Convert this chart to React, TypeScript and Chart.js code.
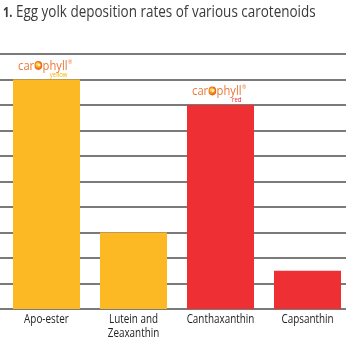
import React, { useEffect, useRef } from "react";
import { Chart, registerables } from "chart.js";

Chart.register(...registerables);

const categories: string[][] = [["Apo-ester"], ["Lutein and", "Zeaxanthin"], ["Canthaxanthin"], ["Capsanthin"]];
const depositionValues = [9, 3, 8, 1.5];
const barColors = ["#FDB924", "#FDB924", "#EE2F33", "#EE2F33"];
const logoLabels = ["yellow", "", "red", ""];
const logoSubColors = ["#F4B400", "", "#E8262B", ""];
const yTicks = [0, 1, 2, 3, 4, 5, 6, 7, 8, 9, 10];

const W = 347;
const H = 347;
const CANVAS_W = 351;
const FONT = '"Open Sans", sans-serif';

const gridPlugin = {
  id: "fullGrid",
  beforeDatasetsDraw(chart: any) {
    const ctx = chart.ctx;
    const y = chart.scales.y;
    ctx.save();
    ctx.strokeStyle = "#7a7a7a";
    ctx.lineWidth = 2;
    for (const v of yTicks) {
      const py = Math.round(y.getPixelForValue(v));
      ctx.beginPath();
      ctx.moveTo(0, py);
      ctx.lineTo(W - 1, py);
      ctx.stroke();
    }
    ctx.restore();
  },
};

const labelPlugin = {
  id: "narrowLabels",
  afterDraw(chart: any) {
    const ctx = chart.ctx;
    const xs = chart.scales.x;
    const bottom = chart.chartArea.bottom;
    ctx.save();
    ctx.font = "13px " + FONT;
    ctx.fillStyle = "#222222";
    ctx.textAlign = "center";
    ctx.textBaseline = "middle";
    categories.forEach((lines, i) => {
      const cx = xs.getPixelForValue(i);
      lines.forEach((line, j) => {
        ctx.save();
        ctx.translate(cx, bottom + 10 + j * 14);
        ctx.scale(0.76, 1);
        ctx.fillText(line, 0, 0);
        ctx.restore();
      });
    });
    ctx.restore();
  },
};

function drawLogo(ctx: CanvasRenderingContext2D, cx: number, baseY: number, sub: string, subColor: string) {
  const orange = "#E9793A";
  const sx = 0.86;
  ctx.save();
  ctx.translate(cx, baseY);
  ctx.scale(sx, 1);
  ctx.font = "13px " + FONT;
  ctx.textBaseline = "alphabetic";
  const wCar = ctx.measureText("car").width;
  const wPhyll = ctx.measureText("phyll").width;
  const r = 4.4;
  const iconW = r * 2 + 1;
  const total = wCar + iconW + wPhyll + 4;
  let x = -total / 2;
  ctx.fillStyle = orange;
  ctx.textAlign = "left";
  ctx.fillText("car", x, 0);
  x += wCar;
  const icx = x + iconW / 2;
  const icy = -4;
  const g = ctx.createRadialGradient(icx - 1.5, icy - 1.5, 0.5, icx, icy, r);
  g.addColorStop(0, "#FFE066");
  g.addColorStop(0.5, "#F7A21B");
  g.addColorStop(1, "#E2561E");
  ctx.fillStyle = g;
  ctx.beginPath();
  ctx.arc(icx, icy, r, 0, Math.PI * 2);
  ctx.fill();
  ctx.fillStyle = "#FFF2B0";
  ctx.beginPath();
  ctx.arc(icx + 1, icy - 0.5, 1.5, 0, Math.PI * 2);
  ctx.fill();
  x += iconW;
  ctx.fillStyle = orange;
  ctx.fillText("phyll", x, 0);
  x += wPhyll;
  ctx.font = "6px " + FONT;
  ctx.fillText("®", x + 0.5, -6);
  ctx.font = "7px " + FONT;
  ctx.fillStyle = subColor;
  ctx.textAlign = "right";
  ctx.fillText(sub, x, 7);
  ctx.restore();
}

const logoPlugin = {
  id: "logos",
  afterDatasetsDraw(chart: any) {
    const ctx = chart.ctx;
    const meta = chart.getDatasetMeta(0);
    meta.data.forEach((bar: any, i: number) => {
      if (!logoLabels[i]) return;
      drawLogo(ctx, bar.x - 2, bar.y - 10, logoLabels[i], logoSubColors[i]);
    });
  },
};

export default function App() {
  const canvasRef = useRef<HTMLCanvasElement | null>(null);
  const titleRef = useRef<HTMLDivElement | null>(null);

  useEffect(() => {
    document.body.style.margin = "0";
    const t = titleRef.current;
    if (t) {
      t.style.transform = "none";
      const w = t.scrollWidth;
      if (w > 0) t.style.transform = `scaleX(${313 / w})`;
    }
    const canvas = canvasRef.current;
    if (!canvas) return;
    const chart = new Chart(canvas, {
      type: "bar",
      data: {
        labels: categories.map((c) => c.join(" ")),
        datasets: [
          {
            data: depositionValues,
            backgroundColor: barColors,
            borderWidth: 0,
            barPercentage: 0.77,
            categoryPercentage: 1,
          },
        ],
      },
      options: {
        responsive: false,
        animation: false,
        devicePixelRatio: 1,
        layout: { padding: { top: 54, left: 3, right: 0, bottom: 0 } },
        plugins: {
          legend: { display: false },
          tooltip: { enabled: false },
          title: { display: false },
        },
        scales: {
          x: {
            grid: { display: false },
            border: { display: false },
            ticks: { display: false },
            afterFit: (s: any) => {
              s.height = 38;
            },
          },
          y: {
            display: false,
            min: 0,
            max: 10,
          },
        },
      },
      plugins: [gridPlugin, logoPlugin, labelPlugin],
    });
    return () => chart.destroy();
  }, []);

  return (
    <div style={{ position: "relative", width: W, height: H, overflow: "hidden", background: "#fff" }}>
      <canvas ref={canvasRef} width={CANVAS_W} height={H} style={{ display: "block" }} />
      <div
        ref={titleRef}
        style={{
          position: "absolute",
          left: 3,
          top: 0,
          whiteSpace: "nowrap",
          fontFamily: FONT,
          fontSize: 17,
          lineHeight: "22px",
          color: "#3a3a3a",
          transformOrigin: "0 0",
          display: "inline-block",
        }}
      >
        <span style={{ fontWeight: "bold", fontSize: 14 }}>1.</span> Egg yolk deposition rates of various carotenoids
      </div>
    </div>
  );
}
